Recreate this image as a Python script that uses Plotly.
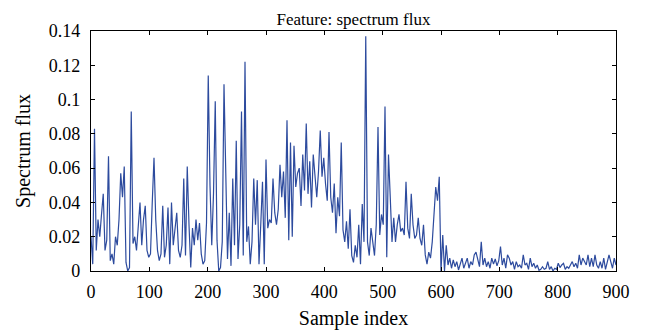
import plotly.graph_objects as go

# Sample indices (every 3rd sample) and estimated spectrum flux values
sample_step = 3
flux = [
    0.02, 0.004, 0.083, 0.012, 0.03, 0.02, 0.033, 0.045, 0.012, 0.018,
    0.067, 0.006, 0.01, 0.004, 0.02, 0.015, 0.03, 0.057, 0.043, 0.061,
    0.005, 0.0, 0.002, 0.093, 0.016, 0.02, 0.012, 0.025, 0.04, 0.015,
    0.03, 0.038, 0.012, 0.008, 0.01, 0.04, 0.066, 0.03, 0.012, 0.006,
    0.01, 0.038, 0.008, 0.015, 0.037, 0.004, 0.04, 0.015, 0.025, 0.034,
    0.012, 0.008, 0.015, 0.054, 0.009, 0.061, 0.027, 0.002, 0.025, 0.015,
    0.03, 0.018, 0.028, 0.01, 0.004, 0.006, 0.028, 0.114, 0.05, 0.015,
    0.045, 0.099, 0.018, 0.0, 0.002, 0.017, 0.109, 0.054, 0.007, 0.034,
    0.003, 0.054, 0.015, 0.076, 0.007, 0.027, 0.093, 0.009, 0.122, 0.017,
    0.026, 0.004, 0.017, 0.054, 0.027, 0.053, 0.004, 0.027, 0.052, 0.004,
    0.065, 0.025, 0.03, 0.028, 0.054, 0.034, 0.027, 0.036, 0.062, 0.043,
    0.058, 0.031, 0.088, 0.018, 0.075, 0.02, 0.073, 0.049, 0.057, 0.06,
    0.038, 0.068, 0.047, 0.086, 0.045, 0.064, 0.037, 0.068, 0.057, 0.043,
    0.058, 0.082, 0.055, 0.066, 0.051, 0.041, 0.081, 0.043, 0.034, 0.051,
    0.022, 0.043, 0.032, 0.075, 0.024, 0.017, 0.029, 0.013, 0.036, 0.009,
    0.005, 0.015, 0.008, 0.027, 0.004, 0.039, 0.017, 0.137, 0.017, 0.009,
    0.025, 0.017, 0.009, 0.027, 0.084, 0.021, 0.033, 0.027, 0.096, 0.008,
    0.068, 0.043, 0.017, 0.031, 0.017, 0.027, 0.033, 0.023, 0.025, 0.021,
    0.052, 0.025, 0.019, 0.045, 0.027, 0.019, 0.021, 0.031, 0.019, 0.015,
    0.027, 0.0094, 0.004, 0.011, 0.0075, 0.017, 0.035, 0.049, 0.041, 0.055,
    0.0, 0.021, 0.0, 0.015, 0.0035, 0.0075, 0.0016, 0.0065, 0.0025, 0.0055,
    0.0006, 0.0035, 0.0075, 0.0016, 0.0045, 0.0075, 0.0016, 0.0055, 0.0035, 0.0094,
    0.011, 0.0075, 0.0025, 0.017, 0.0035, 0.0075, 0.0025, 0.0055, 0.0016, 0.0075,
    0.004, 0.007, 0.003, 0.006, 0.0143, 0.0035, 0.0075, 0.0016, 0.0094, 0.0075,
    0.0035, 0.0055, 0.001, 0.0055, 0.0025, 0.0035, 0.0016, 0.0094, 0.0035, 0.0045,
    0.001, 0.0075, 0.0025, 0.0045, 0.0016, 0.0035, 0.0004, 0.001, 0.0025, 0.001,
    0.0016, 0.0055, 0.001, 0.0025, 0.0, 0.0016, 0.001, 0.0045, 0.002, 0.0035,
    0.0045, 0.001, 0.0025, 0.0016, 0.0035, 0.0055, 0.0025, 0.0045, 0.0016, 0.0094,
    0.0035, 0.0075, 0.0055, 0.0035, 0.0094, 0.0025, 0.0075, 0.0025, 0.0094, 0.0035,
    0.0016, 0.0055, 0.0016, 0.0075, 0.001, 0.0045, 0.0094, 0.0055, 0.0016, 0.0075,
    0.0035,
]
sample_index = [i * sample_step for i in range(len(flux))]

x_ticks = [0, 100, 200, 300, 400, 500, 600, 700, 800, 900]
y_ticks = [0, 0.02, 0.04, 0.06, 0.08, 0.1, 0.12, 0.14]
y_tick_text = ["0", "0.02", "0.04", "0.06", "0.08", "0.1", "0.12", "0.14"]

FONT = "Liberation Serif"

fig = go.Figure()
fig.add_trace(go.Scatter(
    x=sample_index, y=flux, mode="lines",
    line=dict(color="#2d4b9e", width=1.2),
    showlegend=False,
))

axis_common = dict(
    showgrid=False, zeroline=False, showline=True, linecolor="black",
    linewidth=1.2, mirror="allticks", ticks="inside", ticklen=4,
    tickcolor="black", tickfont=dict(family=FONT, size=18, color="black"),
    automargin=False,
)

fig.update_layout(
    width=652, height=336,
    margin=dict(l=83, r=44, t=23, b=73),
    paper_bgcolor="white", plot_bgcolor="white",
    font=dict(family=FONT, color="black"),
    title=dict(text="Feature: spectrum flux", x=0.5, xref="paper", xanchor="center",
               yref="container", y=0.985, yanchor="top",
               font=dict(family=FONT, size=17, color="black")),
    xaxis=dict(range=[0, 900], tickvals=x_ticks, ticklabelstandoff=4,
               title=dict(text="Sample index", standoff=10,
                          font=dict(family=FONT, size=20, color="black")),
               **axis_common),
    yaxis=dict(range=[0, 0.14], tickvals=y_ticks, ticktext=y_tick_text,
               ticklabelstandoff=6,
               title=dict(text="Spectrum flux", standoff=12,
                          font=dict(family=FONT, size=20, color="black")),
               **axis_common),
)

fig.write_html("out.html")
